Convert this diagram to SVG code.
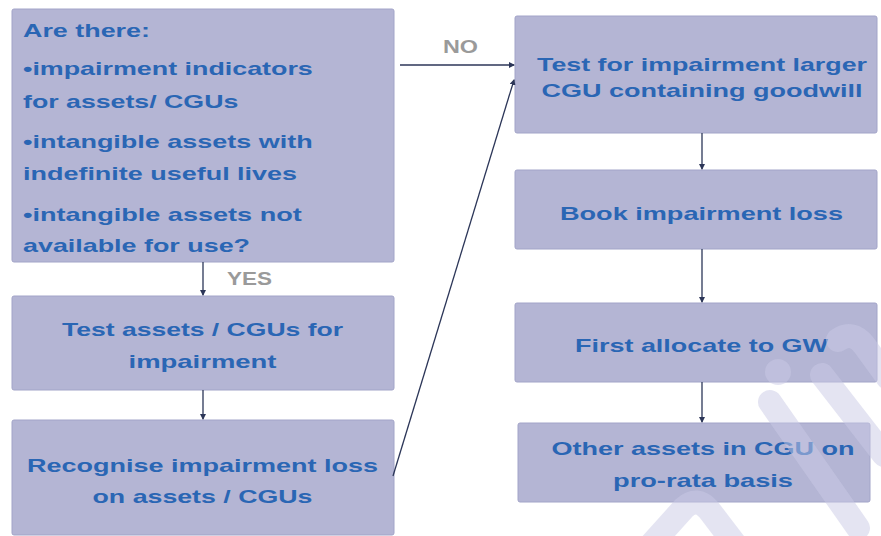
<svg xmlns="http://www.w3.org/2000/svg" width="881" height="536" viewBox="0 0 881 536">
<style>
.box{fill:#b4b5d4;stroke:#a2a4c8;stroke-width:1}
.t{font-family:"Liberation Sans",Arial,sans-serif;font-weight:bold;font-size:19px;fill:#2a66b4}
.c{text-anchor:middle}
.lbl{font-family:"Liberation Sans",Arial,sans-serif;font-weight:bold;font-size:19px;fill:#9a9a9a;text-anchor:middle}
.edge{stroke:#2c3658;stroke-width:1.3;fill:none;marker-end:url(#ah)}
.wm{stroke:#c9cae6;stroke-width:24;stroke-linecap:round;fill:none;opacity:0.5}
</style>
<defs>
<marker id="ah" markerWidth="6" markerHeight="6" refX="5" refY="3" orient="auto" markerUnits="userSpaceOnUse">
<path d="M0,0 L6,3 L0,6 z" fill="#2c3658"/>
</marker>
</defs>
<rect width="881" height="536" fill="#ffffff"/>

<g id="n1">
<rect class="box" x="12" y="9" width="382" height="253" rx="2"/>
<g transform="translate(23 0) scale(1.38 1)">
<text class="t" x="0" y="37" textLength="92" lengthAdjust="spacingAndGlyphs">Are there:</text>
<text class="t" x="0" y="75" textLength="210" lengthAdjust="spacingAndGlyphs">•impairment indicators</text>
<text class="t" x="0" y="108" textLength="156" lengthAdjust="spacingAndGlyphs">for assets/ CGUs</text>
<text class="t" x="0" y="148" textLength="210" lengthAdjust="spacingAndGlyphs">•intangible assets with</text>
<text class="t" x="0" y="180" textLength="198.6" lengthAdjust="spacingAndGlyphs">indefinite useful lives</text>
<text class="t" x="0" y="221" textLength="202" lengthAdjust="spacingAndGlyphs">•intangible assets not</text>
<text class="t" x="0" y="252" textLength="164.5" lengthAdjust="spacingAndGlyphs">available for use?</text>
</g>
</g>

<g id="n2">
<rect class="box" x="12" y="296" width="382" height="94" rx="2"/>
<g transform="translate(202.5 0) scale(1.38 1)">
<text class="t c" x="0" y="336" textLength="203.6" lengthAdjust="spacingAndGlyphs">Test assets / CGUs for</text>
<text class="t c" x="0" y="368" textLength="107.2" lengthAdjust="spacingAndGlyphs">impairment</text>
</g>
</g>

<g id="n3">
<rect class="box" x="12" y="420" width="382" height="115" rx="2"/>
<g transform="translate(202.5 0) scale(1.38 1)">
<text class="t c" x="0" y="472" textLength="254.3" lengthAdjust="spacingAndGlyphs">Recognise impairment loss</text>
<text class="t c" x="0" y="503" textLength="159.4" lengthAdjust="spacingAndGlyphs">on assets / CGUs</text>
</g>
</g>

<g id="nA">
<rect class="box" x="515" y="16" width="362" height="117" rx="2"/>
<g transform="translate(702 0) scale(1.38 1)">
<text class="t c" x="0" y="71" textLength="239.1" lengthAdjust="spacingAndGlyphs">Test for impairment larger</text>
<text class="t c" x="0" y="97" textLength="232.6" lengthAdjust="spacingAndGlyphs">CGU containing goodwill</text>
</g>
</g>

<g id="nB">
<rect class="box" x="515" y="170" width="362" height="79" rx="2"/>
<g transform="translate(701.5 0) scale(1.38 1)">
<text class="t c" x="0" y="220" textLength="205.1" lengthAdjust="spacingAndGlyphs">Book impairment loss</text>
</g>
</g>

<g id="nC">
<rect class="box" x="515" y="303" width="362" height="79" rx="2"/>
<g transform="translate(701.5 0) scale(1.38 1)">
<text class="t c" x="0" y="352" textLength="183.3" lengthAdjust="spacingAndGlyphs">First allocate to GW</text>
</g>
</g>

<g id="nD">
<rect class="box" x="518" y="423" width="352" height="79" rx="2"/>
<g transform="translate(703 0) scale(1.38 1)">
<text class="t c" x="0" y="455" textLength="219.6" lengthAdjust="spacingAndGlyphs">Other assets in CGU on</text>
<text class="t c" x="0" y="487" textLength="130.4" lengthAdjust="spacingAndGlyphs">pro-rata basis</text>
</g>
</g>

<g id="connectors">
<line class="edge" x1="203" y1="262" x2="203" y2="295"/>
<line class="edge" x1="203" y1="390" x2="203" y2="419"/>
<line class="edge" x1="400" y1="65" x2="514" y2="65"/>
<line class="edge" x1="393" y1="476" x2="514" y2="80"/>
<line class="edge" x1="702" y1="133" x2="702" y2="169"/>
<line class="edge" x1="702" y1="249" x2="702" y2="302"/>
<line class="edge" x1="702" y1="382" x2="702" y2="422"/>
<g transform="translate(460.5 0) scale(1.2 1)">
<text class="lbl" x="0" y="53" textLength="29.2" lengthAdjust="spacingAndGlyphs">NO</text>
</g>
<g transform="translate(249.5 0) scale(1.2 1)">
<text class="lbl" x="0" y="285" textLength="37.5" lengthAdjust="spacingAndGlyphs">YES</text>
</g>
</g>

<g id="watermark">
<path class="wm" d="M648 548 L684 508 Q697 496 709 510 L738 548"/>
<circle cx="778" cy="372" r="13" fill="#c9cae6" opacity="0.5"/>
<path class="wm" d="M770 402 L858 528"/>
<path class="wm" d="M838 340 Q852 330 864 345 L888 378"/>
<path class="wm" d="M822 375 L884 455"/>
</g>
</svg>
